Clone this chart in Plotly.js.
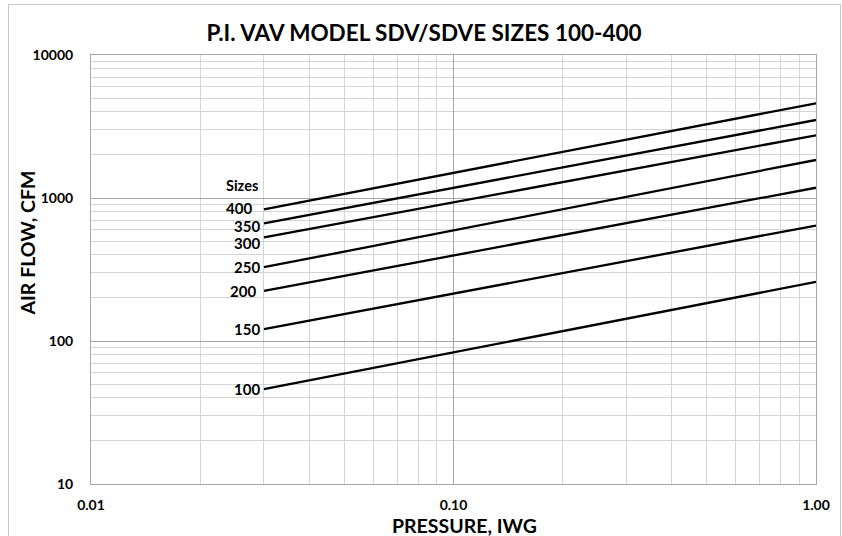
<!DOCTYPE html>
<html>
<head>
<meta charset="utf-8">
<script src="https://cdn.plot.ly/plotly-3.0.1.min.js"></script>
<style>
  html, body { margin: 0; padding: 0; background: #fff; }
  #wrap { position: relative; width: 842px; height: 536px; }
  #chart { position: absolute; left: 0; top: 0; width: 842px; height: 536px; }
  #frame { position: absolute; left: 8px; top: 4px; width: 833px; height: 540px;
           border: 1px solid #c8c8c8; box-sizing: border-box; pointer-events: none; }
</style>
</head>
<body>
<div id="wrap">
  <div id="chart"></div>
  <div id="frame"></div>
</div>
<script>
// ---- data ----
const sizes = ['100', '150', '200', '250', '300', '350', '400'];
const pressure = [0.03, 1.0];                 // IWG, start and end of each line
const flowAtStart = [46, 121, 224, 328, 531, 665, 834];      // CFM at 0.03 IWG
const flowAtEnd = [259, 642, 1180, 1845, 2745, 3512, 4595];  // CFM at 1.00 IWG

const xTickVals = [0.01, 0.1, 1];
const xTickText = ['0.01', '0.10', '1.00'];
const xMinorVals = [0.02, 0.03, 0.04, 0.05, 0.06, 0.07, 0.08, 0.09,
                    0.2, 0.3, 0.4, 0.5, 0.6, 0.7, 0.8, 0.9];
const yTickVals = [10, 100, 1000, 10000];
const yTickText = ['10', '100', '1000', '10000'];
const yMinorVals = [20, 30, 40, 50, 60, 70, 80, 90,
                    200, 300, 400, 500, 600, 700, 800, 900,
                    2000, 3000, 4000, 5000, 6000, 7000, 8000, 9000];

const titleText = 'P.I. VAV MODEL SDV/SDVE SIZES 100-400';
const xTitle = 'PRESSURE, IWG';
const yTitle = 'AIR FLOW, CFM';
const legendTitle = 'Sizes';

// ---- label placement styling (pixels) ----
const labelXShift = [-2, -2, -6, -2, -2, -2, -10];
const labelYShift = [0, 0, 0, 0.5, -6, -2.4, 1.6];

const FONT = 'Lato, "Open Sans", sans-serif';

const traces = sizes.map((s, i) => ({
  type: 'scatter',
  mode: 'lines',
  x: pressure,
  y: [flowAtStart[i], flowAtEnd[i]],
  line: { color: '#000000', width: 2.3 },
  name: s,
  hoverinfo: 'skip'
}));

const annotations = sizes.map((s, i) => ({
  x: Math.log10(pressure[0]),
  y: Math.log10(flowAtStart[i]),
  xref: 'x', yref: 'y',
  text: s,
  showarrow: false,
  xanchor: 'right', yanchor: 'middle',
  xshift: labelXShift[i], yshift: labelYShift[i],
  font: { family: FONT, size: 15, color: '#000', weight: 700 }
}));

annotations.push({
  xref: 'paper', yref: 'paper', x: 0.208, y: 0.695,
  text: legendTitle, showarrow: false, xanchor: 'center', yanchor: 'middle',
  font: { family: FONT, size: 14.5, color: '#000', weight: 700 }
});
annotations.push({
  xref: 'paper', yref: 'paper', x: 0.5145, y: -0.096,
  text: xTitle, showarrow: false, xanchor: 'center', yanchor: 'middle',
  font: { family: FONT, size: 19.5, color: '#000', weight: 700 }
});
annotations.push({
  xref: 'paper', yref: 'paper', x: -0.0883, y: 0.563,
  text: yTitle, showarrow: false, xanchor: 'center', yanchor: 'middle',
  textangle: -90,
  font: { family: FONT, size: 19.5, color: '#000', weight: 700 }
});

const layout = {
  width: 842, height: 536,
  margin: { l: 91, r: 26, t: 55, b: 52, pad: 0 },
  paper_bgcolor: '#ffffff',
  plot_bgcolor: '#ffffff',
  showlegend: false,
  title: {
    text: titleText,
    x: 0.5036, xref: 'container', xanchor: 'center',
    y: 1 - 33 / 536, yref: 'container', yanchor: 'middle',
    font: { family: FONT, size: 22.5, color: '#000', weight: 700 }
  },
  xaxis: {
    type: 'log',
    range: [Math.log10(0.01), Math.log10(1)],
    tickmode: 'array', tickvals: xTickVals, ticktext: xTickText,
    ticks: '', showgrid: true, gridcolor: '#a6a6a6', gridwidth: 1,
    minor: { tickmode: 'array', tickvals: xMinorVals, showgrid: true, gridcolor: '#d4d4d4', gridwidth: 1, ticks: '' },
    showline: true, linecolor: '#a6a6a6', linewidth: 1, mirror: true,
    zeroline: false,
    tickfont: { family: FONT, size: 14, color: '#000', weight: 700 },
    ticklabelstandoff: 8,
    fixedrange: true
  },
  yaxis: {
    type: 'log',
    range: [1, 4],
    tickmode: 'array', tickvals: yTickVals, ticktext: yTickText,
    ticks: '', showgrid: true, gridcolor: '#a6a6a6', gridwidth: 1,
    minor: { tickmode: 'array', tickvals: yMinorVals, showgrid: true, gridcolor: '#d4d4d4', gridwidth: 1, ticks: '' },
    showline: true, linecolor: '#a6a6a6', linewidth: 1, mirror: true,
    zeroline: false,
    tickfont: { family: FONT, size: 14, color: '#000', weight: 700 },
    ticklabelstandoff: 14,
    fixedrange: true
  },
  annotations: annotations
};

Plotly.newPlot('chart', traces, layout, { displayModeBar: false, staticPlot: true });
</script>
</body>
</html>
